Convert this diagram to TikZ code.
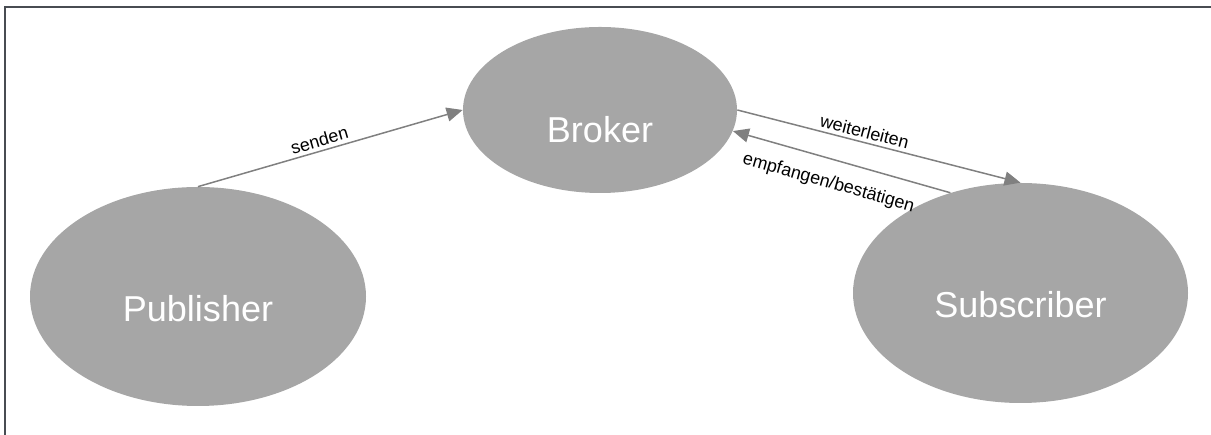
\documentclass[tikz,border=0pt]{standalone}
\usepackage{fontspec}
\setmainfont{Liberation Sans}
\usetikzlibrary{arrows.meta,positioning,shapes.geometric}
\definecolor{nodegray}{RGB}{166,166,166}
\definecolor{edgegray}{RGB}{128,128,128}
\definecolor{framegray}{RGB}{72,76,82}

\begin{document}
\begin{tikzpicture}[
    >={Triangle[length=0.32cm, width=0.28cm]},
    role/.style={ellipse, fill=nodegray, inner sep=0pt, text=white,
        font=\fontsize{20.5}{24}\selectfont, text depth=0pt},
    msg/.style={draw=edgegray, fill=edgegray, line width=0.85pt},
    lbl/.style={font=\fontsize{10.2}{12}\selectfont, sloped, inner sep=2pt}
]
    \useasboundingbox (0,0) rectangle (24.22,8.7);

    % Frame: only left and top edge
    \draw[framegray, line width=1.1pt] (0.1,0) |- (24.22,8.56);

    % Participants
    \node[role, minimum width=5.48cm, minimum height=3.32cm, text height=1.32cm] (broker) at (12.0,6.5) {Broker};
    \node[role, minimum width=6.72cm, minimum height=4.38cm, text height=1.02cm] (publisher) at (3.96,2.77) {Publisher};
    \node[role, minimum width=6.70cm, minimum height=4.40cm, text height=1.00cm] (subscriber) at (20.41,2.84) {Subscriber};

    % Messages
    \draw[msg, ->] (publisher.north) -- node[lbl, above, pos=0.47] {senden} (broker.west);
    \draw[msg, ->] (broker.east) -- node[lbl, above, pos=0.44] {weiterleiten} (subscriber.north);
    \draw[msg, <-] (broker.-9) -- node[lbl, below=6.5pt, pos=0.47] {empfangen/bestätigen} (subscriber.125);
\end{tikzpicture}
\end{document}
